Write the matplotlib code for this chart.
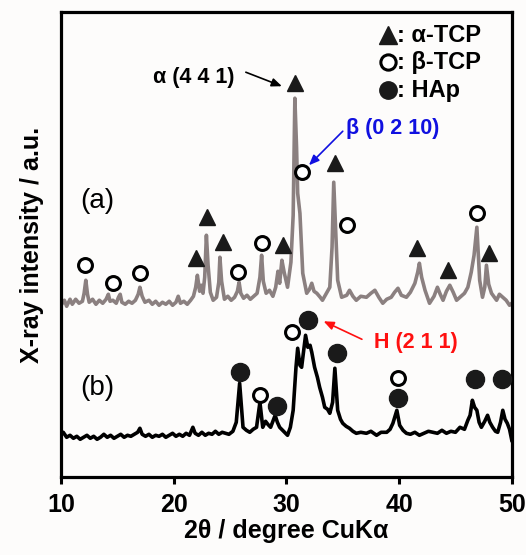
import numpy as np
import matplotlib.pyplot as plt

plt.rcParams['font.family'] = ['Liberation Sans', 'DejaVu Sans']

# pattern (a): 2theta / intensity (a.u.)
tth_a = [10.0, 10.3, 10.5, 10.8, 11.0, 11.3, 11.6, 11.9, 12.05, 12.2, 12.35, 12.5, 12.8, 13.1,
         13.4, 13.7, 14.0, 14.2, 14.35, 14.6, 14.9, 15.1, 15.25, 15.4, 15.7, 16.0, 16.3, 16.6,
         16.85, 17.0, 17.2, 17.45, 17.8, 18.1, 18.4, 18.7, 19.0, 19.3, 19.6, 19.9, 20.2, 20.4,
         20.6, 20.9, 21.2, 21.5, 21.75, 21.95, 22.1, 22.3, 22.45, 22.6, 22.75, 22.9, 23.05, 23.25,
         23.5, 23.8, 24.0, 24.1, 24.25, 24.5, 24.8, 25.1, 25.4, 25.65, 25.8, 25.95, 26.2, 26.5,
         26.8, 27.1, 27.4, 27.65, 27.8, 27.95, 28.2, 28.5, 28.8, 29.05, 29.25, 29.4, 29.6, 29.8,
         30.1, 30.4, 30.6, 30.75, 30.9, 31.0, 31.2, 31.45, 31.8, 32.05, 32.25, 32.45, 32.7, 33.0,
         33.2, 33.5, 33.85, 34.05, 34.2, 34.35, 34.55, 34.9, 35.35, 35.6, 35.9, 36.2, 36.6,
         37.1, 37.5, 37.85, 38.2, 38.55, 38.9, 39.3, 39.6, 39.9, 40.2, 40.65, 41.0, 41.4, 41.65,
         41.8, 42.0, 42.3, 42.7, 43.1, 43.4, 43.65, 43.9, 44.2, 44.5, 44.8, 45.1, 45.5, 45.8,
         46.1, 46.4, 46.65, 46.9, 47.15, 47.4, 47.6, 47.75, 47.95, 48.2, 48.65, 48.9, 49.2,
         49.5, 49.8, 50.0]
int_a = [172, 177, 171, 178, 173, 178, 174, 176, 184, 197, 183, 175, 178, 173,
         177, 174, 178, 183, 176, 177, 174, 180, 183, 175, 173, 176, 174, 177,
         183, 190, 181, 175, 177, 173, 176, 172, 175, 173, 176, 172, 175, 181,
         174, 176, 173, 177, 181, 190, 202, 186, 192, 184, 200, 242, 212, 185,
         177, 180, 195, 220, 196, 178, 181, 177, 180, 186, 195, 184, 179, 182,
         178, 181, 184, 200, 222, 196, 184, 187, 181, 190, 206, 194, 217, 205,
         190, 215, 262, 379, 330, 284, 264, 204, 184, 188, 194, 186, 184, 180,
         177, 183, 190, 230, 295, 252, 197, 180, 182, 187, 181, 177, 181,
         180, 184, 187, 180, 174, 178, 180, 185, 189, 182, 180, 185, 194, 205,
         214, 200, 187, 174, 181, 190, 183, 177, 186, 192, 185, 177, 181, 184,
         190, 205, 222, 250, 197, 180, 190, 212, 193, 184, 177, 183, 180,
         177, 172, 174]

# pattern (b): 2theta / intensity (a.u.)
tth_b = [10.0, 10.2, 10.5, 10.8, 11.1, 11.4, 11.7, 12.0, 12.3, 12.6, 12.9, 13.2, 13.5, 13.8,
         14.1, 14.4, 14.7, 15.0, 15.3, 15.6, 15.9, 16.2, 16.5, 16.8, 17.0, 17.2, 17.5, 17.8,
         18.1, 18.4, 18.7, 19.0, 19.3, 19.6, 19.9, 20.2, 20.5, 20.8, 21.1, 21.4, 21.7, 21.9,
         22.2, 22.5, 22.8, 23.1, 23.4, 23.7, 24.0, 24.3, 24.6, 24.9, 25.25, 25.55, 25.85, 26.15,
         26.45, 26.75, 27.05, 27.35, 27.65, 27.9, 28.15, 28.35, 28.6, 29.0, 29.2, 29.4, 29.75,
         30.1, 30.35, 30.6, 30.85, 31.0, 31.2, 31.35, 31.55, 31.7, 31.9, 32.1, 32.25, 32.5, 32.75,
         32.95, 33.2, 33.4, 33.65, 33.85, 34.1, 34.3, 34.55, 34.8, 35.0, 35.3, 35.6, 35.9, 36.2,
         36.6, 37.1, 37.5, 38.0, 38.4, 38.9, 39.2, 39.45, 39.8, 40.05, 40.35, 40.65, 41.0, 41.4,
         41.8, 42.2, 42.6, 43.0, 43.4, 43.8, 44.2, 44.6, 45.0, 45.4, 45.8, 46.1, 46.3, 46.5,
         46.7, 46.9, 47.1, 47.3, 47.6, 47.85, 48.05, 48.3, 48.55, 48.75, 49.0, 49.2, 49.4,
         49.6, 49.8, 50.0]
int_b = [42, 45, 40, 42, 39, 41, 38, 40, 42, 39, 41, 38, 40, 43,
         40, 42, 39, 41, 43, 40, 42, 41, 43, 45, 49, 43, 41, 43,
         40, 42, 41, 43, 40, 42, 44, 41, 43, 41, 44, 42, 50, 44,
         42, 45, 42, 44, 43, 46, 43, 45, 44, 43, 46, 55, 94, 50,
         47, 45, 48, 50, 75, 50, 56, 53, 50, 62, 55, 50, 46,
         42, 50, 67, 110, 129, 112, 110, 128, 142, 130, 132, 125, 110, 100,
         90, 80, 70, 68, 64, 75, 109, 67, 58, 54, 51, 49, 46, 44,
         45, 44, 46, 42, 45, 45, 48, 54, 67, 52, 47, 44, 43, 45,
         42, 44, 46, 45, 44, 47, 44, 46, 45, 50, 48, 57, 62, 77,
         70, 67, 55, 50, 56, 62, 55, 50, 46, 45, 55, 67, 58,
         54, 48, 37]

# peak markers: alpha-TCP (triangle), beta-TCP (open circle), HAp (filled circle)
a_tri_x = [22.0, 22.95, 24.35, 29.7, 30.75, 34.3, 41.55, 44.3, 48.0]
a_tri_y = [219, 260, 235, 232, 394, 314, 229, 207, 224]
a_open_x = [12.1, 14.6, 17.0, 25.7, 27.8, 31.35, 35.35, 46.9]
a_open_y = [212, 194, 204, 205, 234, 305, 252, 264]
b_open_x = [27.65, 30.5, 39.9]
b_open_y = [82, 145, 99]
b_fill_x = [25.85, 29.15, 31.9, 34.45, 39.9, 46.7, 49.1]
b_fill_y = [105, 71, 157, 124, 79, 98, 98]

fig = plt.figure(figsize=(5.26, 5.55), dpi=100, facecolor='#fdfcfb')
ax = fig.add_axes([0.116, 0.14, 0.857, 0.838])
ax.set_facecolor('#fdfcfb')

ax.plot(tth_a, int_a, color='#8b8080', lw=2.6, zorder=2)
ax.plot(tth_b, int_b, color='black', lw=2.6, zorder=2)

ax.plot(a_tri_x, a_tri_y, '^', ms=11, color='#1a1a1a', ls='none', zorder=3)
ax.plot(a_open_x, a_open_y, 'o', ms=10, mfc='white', mec='black', mew=2.2, ls='none', zorder=3)
ax.plot(b_open_x, b_open_y, 'o', ms=10, mfc='white', mec='black', mew=2.2, ls='none', zorder=3)
ax.plot(b_fill_x, b_fill_y, 'o', ms=13, color='#1a1a1a', ls='none', zorder=3)

# legend drawn as text with markers
leg_x = 39.0
for yy, mk, lab in [(442, '^', ': α-TCP'), (415, 'o', ': β-TCP'), (387, 'o', ': HAp')]:
    if lab == ': β-TCP':
        ax.plot(leg_x, yy, mk, ms=11, mfc='white', mec='black', mew=2.2, zorder=3)
    else:
        ax.plot(leg_x, yy, mk, ms=12.5, color='#1a1a1a', zorder=3)
    ax.text(leg_x + 0.8, yy, lab, fontsize=17, fontweight='bold', va='center', ha='left')

# peak labels and arrows
ax.text(21.8, 400, 'α (4 4 1)', fontsize=15.5, fontweight='bold', ha='center', va='center')
ax.annotate('', xy=(29.6, 391), xytext=(26.4, 405),
            arrowprops=dict(arrowstyle='-|>,head_length=0.6,head_width=0.25', color='black',
                            lw=1.2, shrinkA=0, shrinkB=0))
ax.text(39.4, 349, 'β (0 2 10)', fontsize=15.5, fontweight='bold', color='#1010e0',
        ha='center', va='center')
ax.annotate('', xy=(32.0, 312), xytext=(35.0, 346),
            arrowprops=dict(arrowstyle='-|>,head_length=0.6,head_width=0.25', color='#1010e0',
                            lw=1.2, shrinkA=0, shrinkB=0))
ax.text(41.5, 135, 'H (2 1 1)', fontsize=15.5, fontweight='bold', color='#ff1010',
        ha='center', va='center')
ax.annotate('', xy=(33.3, 156), xytext=(36.7, 138),
            arrowprops=dict(arrowstyle='-|>,head_length=0.6,head_width=0.25', color='#ff1010',
                            lw=1.2, shrinkA=0, shrinkB=0))

ax.text(13.2, 276, '(a)', fontsize=20, ha='center', va='center')
ax.text(13.2, 89, '(b)', fontsize=20, ha='center', va='center')

ax.set_xlim(10, 50)
ax.set_ylim(0, 465)
ax.set_xticks([10, 20, 30, 40, 50])
ax.set_yticks([])
ax.tick_params(axis='x', direction='out', length=5, width=2.2, labelsize=18, pad=6)
for lbl in ax.get_xticklabels():
    lbl.set_fontweight('bold')
for sp in ax.spines.values():
    sp.set_linewidth(2.3)

ax.set_xlabel('2θ / degree CuKα', fontsize=18, fontweight='bold', labelpad=2)
ax.set_ylabel('X-ray intensity / a.u.', fontsize=18, fontweight='bold', labelpad=12)

fig.savefig('out.png', dpi=100, facecolor=fig.get_facecolor())
